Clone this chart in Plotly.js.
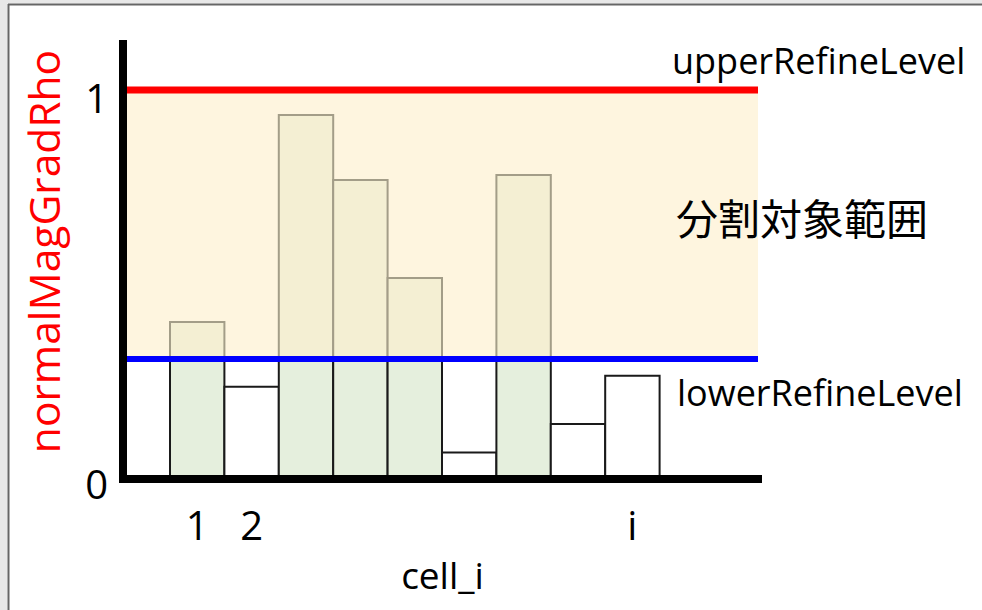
<!DOCTYPE html>
<html>
<head>
<meta charset="utf-8">
<script src="https://cdn.plot.ly/plotly-3.0.1.min.js"></script>
<style>html,body{margin:0;padding:0;background:#fff;}#chart{width:982px;height:610px;}</style>
</head>
<body>
<div id="chart"></div>
<script>
// ---- data ----
const cells = [1, 2, 3, 4, 5, 6, 7, 8, 9];
const normalMagGradRho = [0.399, 0.231, 0.935, 0.767, 0.513, 0.061, 0.780, 0.135, 0.260];
const upperRefineLevel = 1.0;
const lowerRefineLevel = 0.303;
const xTickCells = [1, 2, 9];
const xTickLabels = ['1', '2', 'i'];
const yTickValues = [0, 1];
const yTickLabels = ['0', '1'];
const bandLabel = '分割対象範囲';

// ---- layout geometry (pixels) ----
const W = 982, H = 610;
const L = 123, R = 762, T = 20, B = 483;
const ZERO_PX = 476, UNIT_PX = 386, CELL_PX = 54.4, CELL1_PX = 197.2;
const px = p => (p - L) / (R - L);
const py = p => (B - p) / (B - T);

const FONT = '"Open Sans", Lato, sans-serif';
const JFONT = '"Noto Sans CJK JP", sans-serif';

// lower segment (0 .. lowerRefineLevel) and upper segment (lowerRefineLevel .. value)
const lowerPart = normalMagGradRho.map(v => Math.min(v, lowerRefineLevel));
const lowerColors = normalMagGradRho.map(v => v > lowerRefineLevel ? '#e5efdd' : '#ffffff');
const upperPart = normalMagGradRho.map(v => v > lowerRefineLevel ? v - lowerRefineLevel : null);

const traces = [
  {
    type: 'bar', x: cells, y: lowerPart, width: 1,
    marker: {color: lowerColors, line: {color: '#1a1a1a', width: 2}},
    hoverinfo: 'skip', showlegend: false
  },
  {
    type: 'bar', x: cells, y: upperPart, base: lowerRefineLevel, width: 1,
    marker: {color: '#f4efd3', line: {color: '#a39d88', width: 2}},
    hoverinfo: 'skip', showlegend: false
  }
];

const shapes = [
  // slide frame
  {type: 'rect', xref: 'paper', yref: 'paper', x0: px(0), x1: px(7.5), y0: py(0), y1: py(H), fillcolor: '#e8e8e8', line: {width: 0}, layer: 'below'},
  {type: 'rect', xref: 'paper', yref: 'paper', x0: px(0), x1: px(W), y0: py(0), y1: py(3.5), fillcolor: '#e8e8e8', line: {width: 0}, layer: 'below'},
  {type: 'line', xref: 'paper', yref: 'paper', x0: px(8.5), x1: px(8.5), y0: py(4), y1: py(H), line: {color: '#666666', width: 2}},
  {type: 'line', xref: 'paper', yref: 'paper', x0: px(8), x1: px(W), y0: py(4.5), y1: py(4.5), line: {color: '#666666', width: 2}},
  // refine band
  {type: 'rect', xref: 'paper', yref: 'y', x0: px(127), x1: px(758), y0: lowerRefineLevel, y1: upperRefineLevel, fillcolor: '#fef5df', line: {width: 0}, layer: 'below'},
  // refine level lines
  {type: 'line', xref: 'paper', yref: 'y', x0: px(123), x1: px(758), y0: upperRefineLevel, y1: upperRefineLevel, line: {color: '#ff0000', width: 7}},
  {type: 'line', xref: 'paper', yref: 'y', x0: px(123), x1: px(758), y0: lowerRefineLevel, y1: lowerRefineLevel, line: {color: '#0000ff', width: 6}},
  // axis lines
  {type: 'line', xref: 'paper', yref: 'paper', x0: px(123), x1: px(123), y0: py(483), y1: py(40), line: {color: '#000000', width: 8}},
  {type: 'line', xref: 'paper', yref: 'paper', x0: px(119), x1: px(762), y0: py(479), y1: py(479), line: {color: '#000000', width: 8}}
];

const annotations = [
  {text: 'upperRefineLevel', xref: 'paper', yref: 'paper', x: px(818), y: py(61), xanchor: 'center', yanchor: 'middle', showarrow: false, font: {family: FONT, size: 36, color: '#000'}},
  {text: bandLabel, xref: 'paper', yref: 'paper', x: px(802), y: py(217), xanchor: 'center', yanchor: 'middle', showarrow: false, font: {family: JFONT, size: 42, color: '#000'}},
  {text: 'lowerRefineLevel', xref: 'paper', yref: 'paper', x: px(820), y: py(392), xanchor: 'center', yanchor: 'middle', showarrow: false, font: {family: FONT, size: 36, color: '#000'}}
];

const x0 = 1 - (CELL1_PX - L) / CELL_PX;
const y0 = -(B - ZERO_PX) / UNIT_PX;

const layout = {
  width: W, height: H,
  margin: {l: L, r: W - R, t: T, b: H - B, pad: 0},
  paper_bgcolor: '#ffffff', plot_bgcolor: 'rgba(0,0,0,0)',
  barmode: 'overlay', bargap: 0,
  showlegend: false,
  xaxis: {
    range: [x0, x0 + (R - L) / CELL_PX],
    tickvals: xTickCells, ticktext: xTickLabels,
    ticks: '', showgrid: false, zeroline: false, showline: false,
    ticklabelstandoff: 16,
    tickfont: {family: FONT, size: 40, color: '#000'},
    title: {text: 'cell_i', font: {family: FONT, size: 37, color: '#000'}, standoff: 12},
    automargin: false, fixedrange: true
  },
  yaxis: {
    range: [y0, y0 + (B - T) / UNIT_PX],
    tickvals: yTickValues, ticktext: yTickLabels,
    ticks: '', showgrid: false, zeroline: false, showline: false,
    ticklabelstandoff: 14, ticklabelshift: 9,
    tickfont: {family: FONT, size: 40, color: '#000'},
    title: {text: 'normalMagGradRho', font: {family: FONT, size: 42.5, color: '#ff0000'}, standoff: 11},
    automargin: false, fixedrange: true
  },
  shapes: shapes,
  annotations: annotations
};

Plotly.newPlot('chart', traces, layout, {displayModeBar: false, staticPlot: true});
</script>
</body>
</html>
